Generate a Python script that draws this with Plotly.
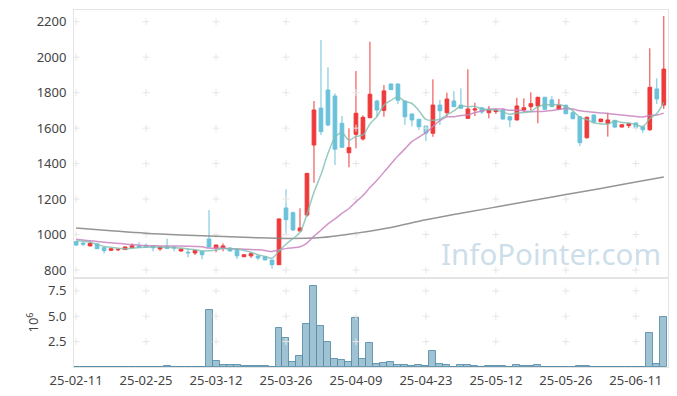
import plotly.graph_objects as go
import pandas as pd

dates = (
    ["25-02-%02d" % d for d in [11, 12, 13, 14, 17, 18, 19, 20, 21, 24, 25, 26, 27, 28]]
    + ["25-03-%02d" % d for d in [4, 5, 6, 7, 10, 11, 12, 13, 14, 17, 18, 19, 20, 21, 24, 25, 26, 27, 28, 31]]
    + ["25-04-%02d" % d for d in [1, 2, 3, 4, 7, 8, 9, 10, 11, 14, 15, 16, 17, 18, 21, 22, 23, 24, 25, 28, 29, 30]]
    + ["25-05-%02d" % d for d in [2, 7, 8, 9, 12, 13, 14, 15, 16, 19, 20, 21, 22, 23, 26, 27, 28, 29, 30]]
    + ["25-06-%02d" % d for d in [2, 4, 5, 9, 10, 11, 12, 13, 16, 17]]
)

opens = [960, 952, 936, 947, 926, 911, 914, 915, 926, 935, 937, 935, 919, 932, 930, 907, 900, 896, 906, 975,
         924, 922, 924, 917, 875, 880, 879, 875, 856, 830, 1150, 1123, 1020, 1110, 1505, 1713, 1815, 1781, 1627, 1461,
         1565, 1539, 1659, 1753, 1700, 1849, 1849, 1753, 1680, 1650, 1612, 1571, 1730, 1687, 1753, 1730, 1655, 1702, 1715, 1687,
         1693, 1702, 1664, 1646, 1702, 1721, 1725, 1774, 1759, 1706, 1729, 1687, 1664, 1546, 1674, 1636, 1627, 1644, 1606, 1614,
         1629, 1608, 1591, 1821, 1730]
highs = [963, 956, 962, 949, 928, 922, 919, 932, 950, 956, 950, 937, 932, 977, 932, 920, 922, 917, 908, 1138,
         943, 950, 926, 919, 888, 899, 881, 877, 858, 1090, 1255, 1130, 1148, 1347, 1753, 2097, 1943, 1796, 1668, 1599,
         1922, 1672, 2087, 1760, 1843, 1851, 1851, 1755, 1682, 1652, 1614, 1875, 1759, 1800, 1809, 1824, 1932, 1743, 1717, 1725,
         1712, 1712, 1666, 1771, 1768, 1802, 1776, 1776, 1780, 1764, 1733, 1700, 1668, 1665, 1676, 1653, 1687, 1646, 1621, 1630,
         1631, 1610, 2050, 1881, 2232]
lows = [936, 935, 934, 918, 894, 909, 906, 913, 924, 926, 928, 905, 908, 920, 905, 905, 872, 885, 860, 928,
        900, 905, 905, 862, 873, 868, 856, 855, 808, 828, 1005, 1020, 1018, 1100, 1292, 1561, 1610, 1392, 1490, 1379,
        1486, 1530, 1655, 1664, 1664, 1815, 1735, 1618, 1610, 1590, 1527, 1551, 1618, 1664, 1719, 1710, 1653, 1668, 1680, 1655,
        1680, 1649, 1605, 1644, 1690, 1700, 1627, 1704, 1719, 1704, 1679, 1651, 1499, 1540, 1625, 1634, 1552, 1600, 1604, 1600,
        1595, 1573, 1584, 1736, 1708]
closes = [941, 946, 950, 920, 909, 920, 917, 930, 937, 928, 930, 925, 930, 922, 924, 918, 897, 911, 886, 930,
          941, 936, 907, 880, 886, 892, 868, 857, 830, 1088, 1084, 1026, 1037, 1345, 1702, 1580, 1618, 1481, 1492, 1490,
          1684, 1661, 1791, 1702, 1810, 1817, 1757, 1664, 1646, 1608, 1572, 1730, 1698, 1764, 1721, 1712, 1708, 1708, 1691, 1702,
          1702, 1651, 1646, 1725, 1715, 1738, 1774, 1706, 1721, 1729, 1681, 1653, 1518, 1661, 1636, 1651, 1646, 1606, 1619, 1625,
          1605, 1591, 1830, 1764, 1933]
volume_m = [0.02, 0.02, 0.02, 0.02, 0.02, 0.02, 0.02, 0.02, 0.02, 0.02, 0.02, 0.02, 0.02, 0.1, 0.02, 0.02, 0.02, 0.02, 0.02, 5.6,
            0.6, 0.2, 0.2, 0.2, 0.1, 0.1, 0.1, 0.1, 0.03, 3.82, 2.84, 0.49, 1.08, 4.22, 7.94, 4.02, 2.45, 0.78, 0.72, 0.52,
            4.8, 0.78, 2.35, 0.29, 0.39, 0.49, 0.2, 0.2, 0.1, 0.2, 0.1, 1.57, 0.29, 0.2, 0.03, 0.2, 0.2, 0.1, 0.02, 0.1,
            0.1, 0.1, 0.02, 0.2, 0.1, 0.1, 0.2, 0.02, 0.02, 0.02, 0.02, 0.02, 0.1, 0.1, 0.02, 0.02, 0.02, 0.02, 0.02, 0.02,
            0.02, 0.02, 3.33, 0.29, 4.9]

# leading moving-average values (windows need earlier history)
ma5_head = [965, 962, 956, 945]
ma20_head = [973, 969, 965, 961, 957, 954, 950, 946, 943, 940, 938, 937, 936, 935, 935, 935, 934, 933, 931]
# long moving average (gray) at these sessions
ma120_idx = [0, 5, 10, 15, 20, 25, 30, 35, 40, 45, 50, 55, 60, 65, 70, 75, 80, 84]
ma120_val = [1037, 1022, 1008, 998, 990, 983, 978, 983, 1008, 1040, 1083, 1120, 1155, 1190, 1226, 1260, 1296, 1325]

price_ticks = [800, 1000, 1200, 1400, 1600, 1800, 2000, 2200]
vol_ticks = [2.5, 5.0, 7.5]
vol_ticktext = ["2.5", "5.0", "7.5"]
xtick_idx = [0, 10, 20, 30, 40, 50, 60, 70, 80]

cs = pd.Series(closes, dtype=float)
ma5 = cs.rolling(5).mean().tolist()
ma5[:4] = ma5_head
ma20 = cs.rolling(20).mean().tolist()
ma20[:19] = ma20_head

RED = "#ee3a3a"
BLUE = "#6ac2da"
GRID = "#e6e6e6"
TXT = "#444444"
FONT = "Noto Sans"

fig = go.Figure()
gx = [dates[i] for i in xtick_idx]
# grid crosses (drawn first, under the marks)
fig.add_trace(go.Scatter(x=[x for x in gx for _ in price_ticks], y=[y for _ in gx for y in price_ticks],
                         mode="markers", marker=dict(symbol="cross-thin", size=5, line=dict(color=GRID, width=1)),
                         xaxis="x", yaxis="y", showlegend=False, hoverinfo="skip"))
fig.add_trace(go.Scatter(x=[x for x in gx for _ in vol_ticks], y=[y for _ in gx for y in vol_ticks],
                         mode="markers", marker=dict(symbol="cross-thin", size=5, line=dict(color=GRID, width=1)),
                         xaxis="x2", yaxis="y2", showlegend=False, hoverinfo="skip"))

fig.add_trace(go.Candlestick(
    x=dates, open=opens, high=highs, low=lows, close=closes,
    increasing=dict(line=dict(color=RED, width=1), fillcolor=RED),
    decreasing=dict(line=dict(color=BLUE, width=1), fillcolor=BLUE),
    whiskerwidth=0, xaxis="x", yaxis="y", showlegend=False, hoverinfo="skip",
))
fig.add_trace(go.Scatter(x=[dates[i] for i in ma120_idx], y=ma120_val, mode="lines",
                         line=dict(color="rgba(130,130,130,0.85)", width=1.5, shape="spline"),
                         xaxis="x", yaxis="y", showlegend=False, hoverinfo="skip"))
fig.add_trace(go.Scatter(x=dates, y=ma20, mode="lines",
                         line=dict(color="rgba(200,130,190,0.85)", width=1.5, shape="spline"),
                         xaxis="x", yaxis="y", showlegend=False, hoverinfo="skip"))
fig.add_trace(go.Scatter(x=dates, y=ma5, mode="lines",
                         line=dict(color="rgba(125,190,178,0.8)", width=1.5, shape="spline"),
                         xaxis="x", yaxis="y", showlegend=False, hoverinfo="skip"))

fig.add_trace(go.Bar(x=dates, y=volume_m, marker=dict(color="rgba(135,180,200,0.8)",
                                                      line=dict(color="rgba(85,140,168,0.85)", width=1)),
                     xaxis="x2", yaxis="y2", showlegend=False, hoverinfo="skip"))

split = 89 / 357
axis_common = dict(showgrid=False, zeroline=False, showline=True, linecolor="#e4e4e4", linewidth=1,
                   mirror=True, automargin=False)
cat = dict(type="category", categoryorder="array", categoryarray=dates, range=[-0.3, 84.6])
# the page body adds an 8px offset, so the figure is 8px smaller and margins compensate
fig.update_layout(
    width=669, height=388,
    margin=dict(l=66, r=9, t=2, b=29),
    paper_bgcolor="white", plot_bgcolor="white",
    font=dict(family=FONT, size=13, color=TXT),
    bargap=0, boxgap=0.25,
    xaxis=dict(domain=[0, 1], anchor="y", showticklabels=False, tickvals=gx,
               rangeslider=dict(visible=False), **cat, **axis_common),
    yaxis=dict(domain=[split, 1], anchor="x", range=[755, 2266], tickvals=price_ticks,
               ticks="outside", ticklen=4, tickcolor="rgba(0,0,0,0)", **axis_common),
    xaxis2=dict(domain=[0, 1], anchor="y2", matches="x", tickvals=gx, ticktext=gx,
                ticks="outside", ticklen=1, tickcolor="rgba(0,0,0,0)", **cat, **axis_common),
    yaxis2=dict(domain=[0, split], anchor="x2", range=[0, 8.77], tickvals=vol_ticks, ticktext=vol_ticktext,
                ticks="outside", ticklen=4, tickcolor="rgba(0,0,0,0)",
                title=dict(text="10<sup>6</sup>", standoff=6, font=dict(size=13, color=TXT)), **axis_common),
    annotations=[dict(text="InfoPointer.com", xref="paper", yref="paper", x=0.803, y=0.318,
                      xanchor="center", yanchor="middle", showarrow=False,
                      font=dict(family=FONT, size=29.5, color="rgba(170,200,218,0.6)"))],
)

fig.write_html("out.html")
